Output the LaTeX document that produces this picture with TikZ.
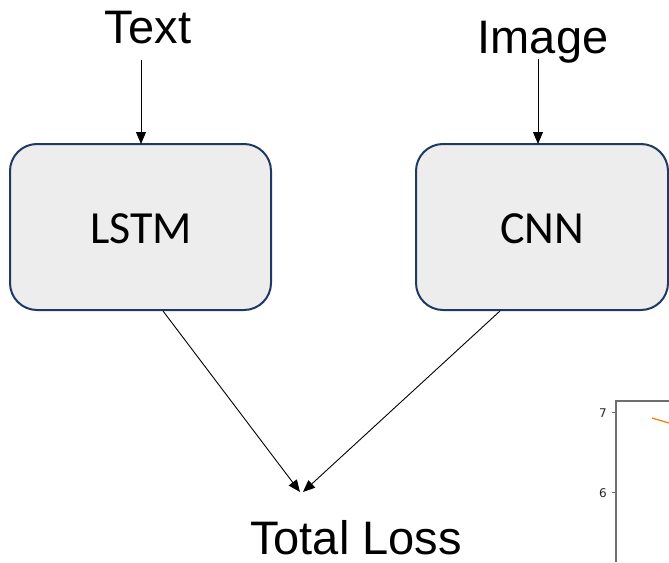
\documentclass[tikz,border=0pt]{standalone}
\usepackage{fontspec}
\setmainfont{Liberation Sans}
\newfontfamily\calib{Carlito}
\newfontfamily\dejavu{DejaVu Sans}
\usetikzlibrary{arrows.meta}
\definecolor{boxfill}{HTML}{EDEDED}
\definecolor{boxline}{HTML}{1F3864}
\definecolor{spine}{HTML}{6E6E6E}
\definecolor{mplorange}{HTML}{FF7F0E}
\tikzset{
  lbl/.style={font=\fontsize{47}{50}\selectfont, inner sep=0pt, text height=34pt, text depth=0pt},
  netbox/.style={draw=boxline, line width=2pt, fill=boxfill, rounded corners=27pt, inner sep=0pt},
  nettext/.style={font=\calib\fontsize{46}{50}\selectfont, inner sep=0pt},
  conn/.style={-{Triangle[length=12pt,width=10pt]}, line width=0.9pt},
  tick/.style={font=\dejavu\fontsize{12}{14}\selectfont, text=black!85, inner sep=0pt}
}
\begin{document}
\begin{tikzpicture}[x=1pt,y=-1pt]
\useasboundingbox (0,0) rectangle (669,562);
% labels
\node[lbl, anchor=base] (text) at (148,43) {Text};
\node[lbl, anchor=base] (image) at (543,53) {Image};
\node[lbl, anchor=base west] (loss) at (250,554) {Total Loss};
% boxes
\draw[netbox] (10,144) rectangle (271,310);
\draw[netbox] (416,144) rectangle (668,310);
\coordinate (lstmtop) at (141,144);
\coordinate (cnntop) at (538,144);
\coordinate (textbot) at (141,60);
\coordinate (imagebot) at (538,59);
\coordinate (lstmout) at (163,311);
\coordinate (cnnout) at (500,311);
\coordinate (tipl) at (300,492);
\coordinate (tipr) at (303,492);
\node[nettext, anchor=base] (lstm) at (141,243) {LSTM};
\node[nettext, anchor=base] (cnn) at (542,243) {CNN};
% connectors
\draw[conn] (textbot) -- (lstmtop);
\draw[conn] (imagebot) -- (cnntop);
\draw[conn] (lstmout) -- (tipl);
\draw[conn] (cnnout) -- (tipr);
% partial plot
\draw[spine, line width=1.3pt] (616,562) -- (616,401) -- (669,401);
\draw[spine, line width=1pt] (616,412) -- (612,412);
\draw[spine, line width=1pt] (616,492) -- (612,492);
\node[tick, anchor=east] (t7) at (607,413) {7};
\node[tick, anchor=east] (t6) at (607,493) {6};
\draw[mplorange, line width=1.3pt] (652,418) -- (669,423);
\end{tikzpicture}
\end{document}
